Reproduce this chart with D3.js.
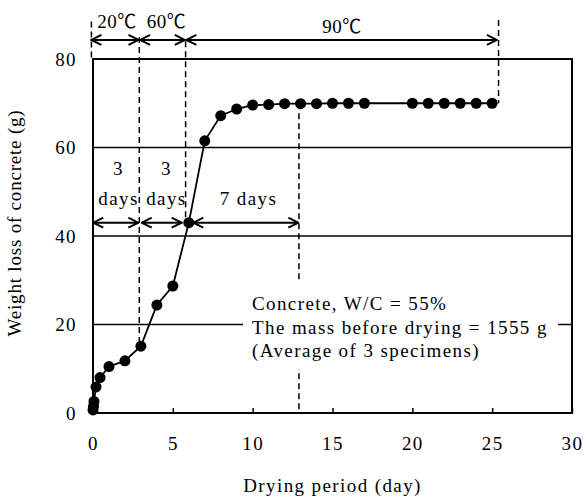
<!DOCTYPE html>
<html>
<head>
<meta charset="utf-8">
<script src="https://cdnjs.cloudflare.com/ajax/libs/d3/7.8.5/d3.min.js"></script>
<style>
	body{ margin:0; background:#ffffff; }
	svg text{ font-family:"Liberation Serif","Times New Roman","Noto Sans CJK JP",serif; font-size:19px; letter-spacing:1.4px; fill:#000000; }
</style>
</head>
<body>
<svg id="chart" width="583" height="500"></svg>
<script>
// measured series (drying period in days, weight loss in g)
const dryDays    = [0, 0.03, 0.06, 0.19, 0.44, 1, 2, 3, 4, 5, 6, 7, 8, 9, 10, 11, 12, 13, 14, 15, 16, 17, 20, 21, 22, 23, 24, 25];
const weightLoss = [0.7, 1.5, 2.6, 5.9, 8.0, 10.5, 11.8, 15.1, 24.4, 28.7, 43.0, 61.5, 67.2, 68.7, 69.6, 69.7, 69.9, 69.9, 69.9, 70, 70, 70, 70, 70, 70, 70, 70, 70];

const xTicks     = [0, 5, 10, 15, 20, 25, 30];
const yTicks     = [0, 20, 40, 60, 80];
const gridVals   = [20, 40, 60];

// temperature stages (top arrows)
const tempLabels   = ["20℃", "60℃", "90℃"];
const tempFrom     = [-0.1, 2.95, 5.85];
const tempTo       = [2.85, 5.75, 25.3];
const tempTextDay  = [1.5, 4.6, 15.6];
const tempTextLoss = [87, 87, 85.9];
const tempArrowLoss = 84.3;

// stage durations (middle arrows)
const spanTop      = ["3", "3", ""];
const spanBottom   = ["days", "days", "7 days"];
const spanFrom     = [0.02, 3.05, 6.28];
const spanTo       = [2.84, 5.55, 12.86];
const spanTextDay  = [1.6, 4.6, 9.74];
const spanArrowLoss = 43;

// dashed guide lines
const dashDay    = [-0.1, 2.9, 5.8, 12.9, 25.4];
const dashTop    = [88.5, 85, 84, 70, 88.8];
const dashBottom = [80, 15, 43, 0, 70];

const noteLines  = ["Concrete, W/C = 55%", "The mass before drying = 1555 g", "(Average of 3 specimens)"];

const W = 583, H = 500;
const pL = 93, pR = 572, pT = 59, pB = 413;

const xSc = d3.scaleLinear().domain([0, 30]).range([pL, pR]);
const ySc = d3.scaleLinear().domain([0, 80]).range([pB, pT]);

const svg = d3.select("#chart");

// arrow heads: open chevrons
svg.append("defs")
	.append("marker")
		.attr("id", "chev")
		.attr("viewBox", "0 0 12 12")
		.attr("refX", 11)
		.attr("refY", 6)
		.attr("markerWidth", 12)
		.attr("markerHeight", 12)
		.attr("markerUnits", "userSpaceOnUse")
		.attr("orient", "auto-start-reverse")
	.append("path")
		.attr("d", "M1,1 L11,6 L1,11")
		.attr("fill", "none")
		.attr("stroke", "#000")
		.attr("stroke-width", 2);

// horizontal grid lines
svg.append("g")
	.selectAll("line")
	.data(gridVals)
	.enter()
		.append("line")
			.attr("x1", pL).attr("x2", pR)
			.attr("y1", d => ySc(d)).attr("y2", d => ySc(d))
			.attr("stroke", "#000").attr("stroke-width", 1.5);

// dashed guides
svg.append("g")
	.selectAll("line")
	.data(dashDay)
	.enter()
		.append("line")
			.attr("x1", d => xSc(d)).attr("x2", d => xSc(d))
			.attr("y1", (d, i) => ySc(dashTop[i]))
			.attr("y2", (d, i) => ySc(dashBottom[i]))
			.attr("stroke", "#000").attr("stroke-width", 1.5)
			.attr("stroke-dasharray", "6,4");

// x axis (ticks inside)
const xAx = svg.append("g")
	.attr("transform", "translate(0," + pB + ")")
	.call(d3.axisBottom(xSc).tickValues(xTicks).tickSize(-5).tickSizeOuter(0).tickPadding(24));
xAx.select(".domain").remove();
xAx.selectAll(".tick line").attr("stroke-width", 1.5);

// y axis (labels only)
const yAx = svg.append("g")
	.attr("transform", "translate(" + pL + ",0)")
	.call(d3.axisLeft(ySc).tickValues(yTicks).tickSize(0).tickPadding(16));
yAx.select(".domain").remove();

// plot frame
svg.append("rect")
	.attr("x", pL).attr("y", pT)
	.attr("width", pR - pL).attr("height", pB - pT)
	.attr("fill", "none")
	.attr("stroke", "#000").attr("stroke-width", 2);

// note box (white background hides grid and guide)
svg.append("rect")
	.attr("x", 243).attr("y", 281)
	.attr("width", 315).attr("height", 88)
	.attr("fill", "#fff");

svg.append("g")
	.selectAll("text")
	.data(noteLines)
	.enter()
		.append("text")
			.attr("x", 252)
			.attr("y", (d, i) => 310 + i * 23.5)
			.text(d => d);

// data line and markers
const pts = dryDays.map((d, i) => [d, weightLoss[i]]);
svg.append("path")
	.datum(pts)
	.attr("d", d3.line().x(d => xSc(d[0])).y(d => ySc(d[1])))
	.attr("fill", "none")
	.attr("stroke", "#000").attr("stroke-width", 1.8);

svg.append("g")
	.selectAll("circle")
	.data(pts)
	.enter()
		.append("circle")
			.attr("cx", d => xSc(d[0]))
			.attr("cy", d => ySc(d[1]))
			.attr("r", 5.5)
			.attr("fill", "#000");

// temperature arrows
svg.append("g")
	.selectAll("line")
	.data(tempLabels)
	.enter()
		.append("line")
			.attr("x1", (d, i) => xSc(tempFrom[i])).attr("x2", (d, i) => xSc(tempTo[i]))
			.attr("y1", ySc(tempArrowLoss)).attr("y2", ySc(tempArrowLoss))
			.attr("stroke", "#000").attr("stroke-width", 2)
			.attr("marker-start", "url(#chev)")
			.attr("marker-end", "url(#chev)");

svg.append("g")
	.selectAll("text")
	.data(tempLabels)
	.enter()
		.append("text")
			.attr("x", (d, i) => xSc(tempTextDay[i]))
			.attr("y", (d, i) => ySc(tempTextLoss[i]))
			.attr("text-anchor", "middle")
			.style("letter-spacing", "0.5px")
			.text(d => d);

// duration arrows
svg.append("g")
	.selectAll("line")
	.data(spanBottom)
	.enter()
		.append("line")
			.attr("x1", (d, i) => xSc(spanFrom[i])).attr("x2", (d, i) => xSc(spanTo[i]))
			.attr("y1", ySc(spanArrowLoss)).attr("y2", ySc(spanArrowLoss))
			.attr("stroke", "#000").attr("stroke-width", 2)
			.attr("marker-start", "url(#chev)")
			.attr("marker-end", "url(#chev)");

const spanTxt = svg.append("g");
spanTxt.selectAll("text.top")
	.data(spanTop)
	.enter()
		.append("text")
			.attr("class", "top")
			.attr("x", (d, i) => xSc(spanTextDay[i]))
			.attr("y", 175)
			.attr("text-anchor", "middle")
			.text(d => d);
spanTxt.selectAll("text.bot")
	.data(spanBottom)
	.enter()
		.append("text")
			.attr("class", "bot")
			.attr("x", (d, i) => xSc(spanTextDay[i]))
			.attr("y", 205)
			.attr("text-anchor", "middle")
			.text(d => d);

// axis titles
svg.append("text")
	.attr("x", (pL + pR) / 2)
	.attr("y", 492)
	.attr("text-anchor", "middle")
	.text("Drying period (day)");

svg.append("text")
	.attr("transform", "translate(21,223) rotate(-90)")
	.attr("text-anchor", "middle")
	.style("letter-spacing", "0.8px")
	.text("Weight loss of concrete (g)");
</script>
</body>
</html>
